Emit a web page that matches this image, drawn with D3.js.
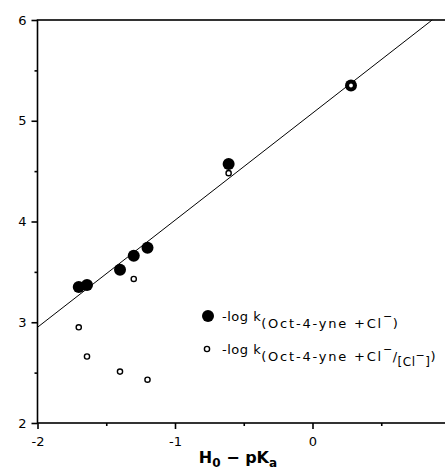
<!DOCTYPE html>
<html><head><meta charset="utf-8">
<script src="https://cdn.jsdelivr.net/npm/d3@7"></script>
<style>body{margin:0;background:#fff}svg{display:block}text{font-family:"DejaVu Sans",sans-serif;fill:#000}</style>
</head><body>
<script>
const filledX = [-1.70, -1.64, -1.40, -1.30, -1.20, -0.61, 0.28];
const filledY = [3.35, 3.37, 3.52, 3.66, 3.74, 4.57, 5.35];
const openX = [-1.70, -1.64, -1.40, -1.30, -1.20, -0.61, 0.28];
const openY = [2.95, 2.66, 2.51, 3.43, 2.43, 4.48, 5.35];
const fitLine = [[-2, 2.95], [0.87, 6.0]];
const xTicks = [-2, -1, 0];
const xMinor = [-1.5, -0.5, 0.5];
const yTicks = [2, 3, 4, 5, 6];
const yMinor = [2.5, 3.5, 4.5, 5.5];

const W = 445, H = 469;
const svg = d3.select("body").append("svg").attr("width", W).attr("height", H);
const x = d3.scaleLinear().domain([-2, 1]).range([37.5, 450]);
const y = d3.scaleLinear().domain([2, 6]).range([423, 20]);

// frame
svg.append("rect").attr("x", x(-2)).attr("y", y(6)).attr("width", x(1) - x(-2)).attr("height", y(2) - y(6))
  .attr("fill", "none").attr("stroke", "#000").attr("stroke-width", 1.6);

// axes
const gx = svg.append("g").attr("transform", `translate(0,${y(2)})`)
  .call(d3.axisBottom(x).tickValues(xTicks).tickSize(6).tickFormat(d => d === 0 ? "0" : "-" + Math.abs(d)));
gx.select(".domain").remove();
gx.selectAll("line").attr("stroke-width", 1.6);
gx.selectAll("text").attr("font-size", 13).attr("dy", "1.1em");
const gxm = svg.append("g").attr("transform", `translate(0,${y(2)})`)
  .call(d3.axisBottom(x).tickValues(xMinor).tickSize(3).tickFormat(""));
gxm.select(".domain").remove();
gxm.selectAll("line").attr("stroke-width", 1.6);

const gy = svg.append("g").attr("transform", `translate(${x(-2)},0)`)
  .call(d3.axisLeft(y).tickValues(yTicks).tickSize(6).tickFormat(d3.format("d")));
gy.select(".domain").remove();
gy.selectAll("line").attr("stroke-width", 1.6);
gy.selectAll("text").attr("font-size", 13).attr("x", -11);
const gym = svg.append("g").attr("transform", `translate(${x(-2)},0)`)
  .call(d3.axisLeft(y).tickValues(yMinor).tickSize(3).tickFormat(""));
gym.select(".domain").remove();
gym.selectAll("line").attr("stroke-width", 1.6);

// fit line
svg.append("path").datum(fitLine)
  .attr("d", d3.line().x(d => x(d[0])).y(d => y(d[1])))
  .attr("fill", "none").attr("stroke", "#000").attr("stroke-width", 1);

// points
svg.append("g").selectAll("circle").data(filledX).join("circle")
  .attr("cx", d => x(d)).attr("cy", (d, i) => y(filledY[i])).attr("r", 6).attr("fill", "#000");
svg.append("g").selectAll("circle").data(openX).join("circle")
  .attr("cx", d => x(d)).attr("cy", (d, i) => y(openY[i])).attr("r", 2.6)
  .attr("fill", "#fff").attr("stroke", "#000").attr("stroke-width", 1.4);

// legend
svg.append("circle").attr("cx", 208).attr("cy", 316).attr("r", 6).attr("fill", "#000");
svg.append("circle").attr("cx", 207).attr("cy", 349).attr("r", 2.6).attr("fill", "#fff").attr("stroke", "#000").attr("stroke-width", 1.4);
const l1 = svg.append("text").attr("x", 222).attr("y", 321).attr("font-size", 13).attr("letter-spacing", 0.5);
l1.append("tspan").text("-log k");
l1.append("tspan").attr("dy", 7).attr("letter-spacing", 1.8).text("(Oct-4-yne +Cl");
l1.append("tspan").attr("dy", -8).attr("font-size", 11).text("\u2212");
l1.append("tspan").attr("dy", 8).text(")");
const l2 = svg.append("text").attr("x", 222).attr("y", 354).attr("font-size", 13).attr("letter-spacing", 0.5);
l2.append("tspan").text("-log k");
l2.append("tspan").attr("dy", 7).attr("letter-spacing", 1.8).text("(Oct-4-yne +Cl");
l2.append("tspan").attr("dy", -8).attr("font-size", 11).text("\u2212");
l2.append("tspan").attr("dy", 8).text("/");
l2.append("tspan").attr("dy", 5).attr("font-size", 12).text("[Cl");
l2.append("tspan").attr("dy", -7).attr("font-size", 11).text("\u2212");
l2.append("tspan").attr("dy", 7).attr("font-size", 12).text("]");
l2.append("tspan").attr("dy", -5).text(")");

// x title
const t = svg.append("text").attr("x", 238).attr("y", 463).attr("text-anchor", "middle")
  .attr("font-size", 16).attr("font-weight", "bold");
t.append("tspan").text("H");
t.append("tspan").attr("dy", 4).attr("font-size", 12).text("0");
t.append("tspan").attr("dy", -4).text(" \u2212 pK");
t.append("tspan").attr("dy", 4).attr("font-size", 12).text("a");
</script>
</body></html>
